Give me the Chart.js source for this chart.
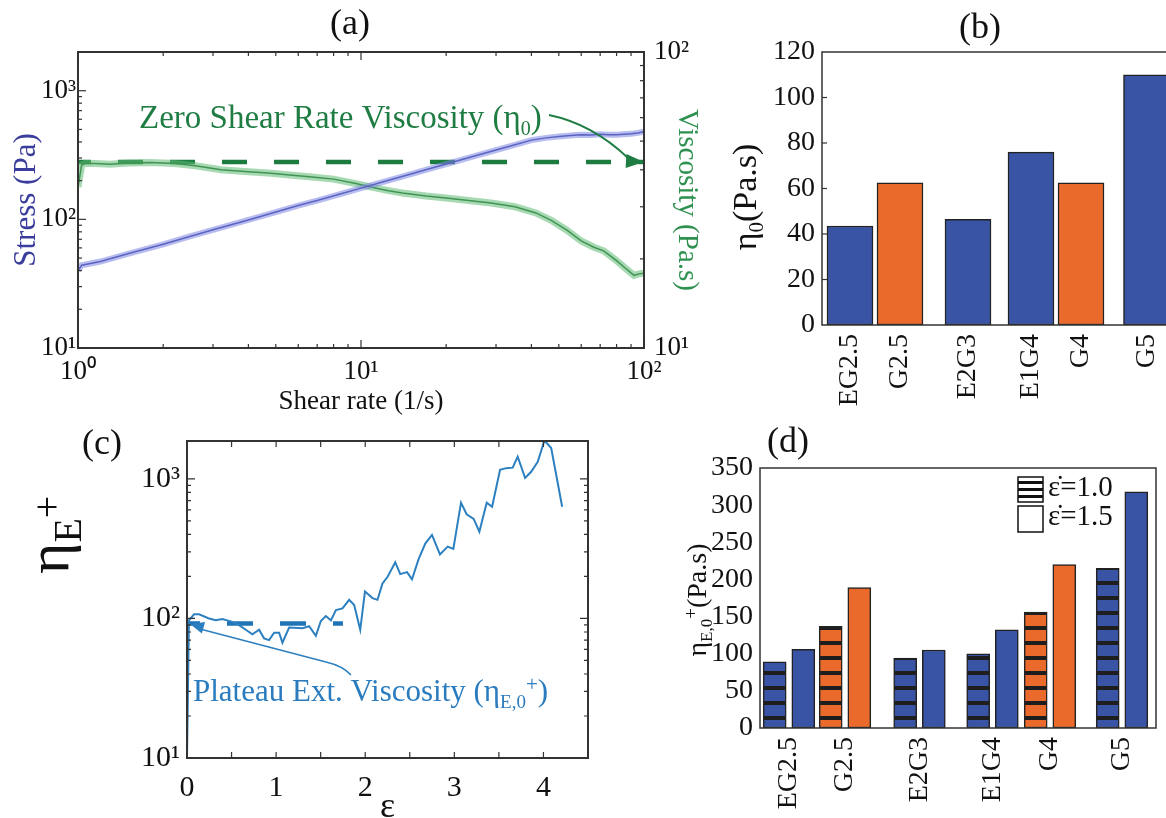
<!DOCTYPE html>
<html>
<head>
<meta charset="utf-8">
<script src="https://cdn.jsdelivr.net/npm/chart.js@4.4.1/dist/chart.umd.min.js"></script>
<style>
html, body { margin: 0; padding: 0; background: #fff; width: 1166px; height: 818px; overflow: hidden; }
canvas { position: absolute; }
</style>
</head>
<body>
<canvas id="ca" width="720" height="420" style="left:0;top:0"></canvas>
<canvas id="cb" width="520" height="420" style="left:700px;top:0"></canvas>
<canvas id="cc" width="700" height="398" style="left:0;top:420px"></canvas>
<canvas id="cd" width="506" height="398" style="left:660px;top:420px"></canvas>
<script>
// (a) flow sweep
var rateStress = [1, 1.03, 1.2, 1.5, 2, 2.5, 3, 4, 5, 6, 7, 8.5, 10, 12, 15, 20, 25, 30, 35, 40, 45, 50, 55, 60, 65, 70, 75, 80, 85, 90, 95, 100];
var stress = [40, 44, 47, 54, 64, 74, 83, 99, 114, 128, 140, 158, 175, 196, 225, 269, 309, 346, 380, 413, 430, 440, 448, 455, 452, 458, 455, 455, 458, 462, 470, 480];
var rateVisc = [1, 1.03, 1.06, 1.15, 1.3, 1.5, 1.8, 2.2, 2.6, 3.2, 4, 4.7, 5.6, 6.7, 8, 9.5, 10.8, 12.5, 14, 17, 20, 24, 28.8, 35, 41.5, 47, 53.4, 60, 66.5, 72, 79.6, 86, 92.2, 96, 100];
var viscosity = [35, 41.5, 42, 42, 41.8, 42.2, 42.3, 42, 41.3, 40, 39.4, 39, 38.4, 37.8, 37.2, 36, 35, 34, 33.4, 32.6, 32.1, 31.5, 30.9, 30, 28.6, 27, 25, 23, 21.9, 21.3, 19.8, 18.6, 17.6, 17.8, 17.9];
var eta0Plateau = 42.5;

// (b) zero shear viscosity
var samples = ['EG2.5', 'G2.5', 'E2G3', 'E1G4', 'G4', 'G5'];
var eta0 = [43.5, 62.5, 46.5, 76, 62.5, 110];

// (c) transient extensional viscosity
var strain = [0, 0.022, 0.079, 0.135, 0.247, 0.322, 0.397, 0.5, 0.58, 0.66, 0.734, 0.809, 0.865, 0.921, 0.978, 1.034, 1.071, 1.146, 1.296, 1.371, 1.446, 1.502, 1.558, 1.615, 1.671, 1.745, 1.82, 1.876, 1.944, 1.997, 2.082, 2.138, 2.194, 2.251, 2.337, 2.393, 2.469, 2.525, 2.599, 2.674, 2.749, 2.839, 2.925, 2.989, 3.075, 3.138, 3.217, 3.281, 3.363, 3.424, 3.513, 3.581, 3.655, 3.711, 3.794, 3.862, 3.936, 4.011, 4.087, 4.21];
var etaE = [10, 97, 107, 107, 100, 97, 99, 95, 90, 83, 77, 83, 72, 70, 79, 79, 67, 86, 85, 88, 75, 96, 104, 97, 115, 118, 136, 125, 83, 156, 140, 136, 178, 199, 253, 208, 215, 191, 266, 344, 397, 288, 327, 315, 676, 558, 517, 419, 676, 632, 1162, 1195, 1205, 1443, 1018, 1125, 1327, 1884, 1665, 632];
var etaE0Plateau = 92;
var plateauEnd = 1.75;

// (d) plateau extensional viscosity at two strain rates
var rateLabels = ['ε̇=1.0', 'ε̇=1.5'];
var etaE0Rate1 = [89, 137, 94, 100, 156, 215];
var etaE0Rate15 = [106, 189, 105, 132, 220, 318];

// layout: where the categories sit on the (b) and (d) axes
var bPos = [0.56, 1.56, 2.92, 4.18, 5.18, 6.49];
var dPos = [2.9, 8.5, 15.95, 23.25, 29.0, 36.2];
var dHalf = 1.43;

var SERIF = "'Liberation Serif', 'Times New Roman', serif";
var BLUE = '#3a54a5', ORANGE = '#ea6a2b';
var barColors = ['blue', 'orange', 'blue', 'blue', 'orange', 'blue'].map(function (c) { return c === 'blue' ? BLUE : ORANGE; });
Chart.defaults.font.family = SERIF;
Chart.defaults.color = '#111';

var SUP = { 0: '⁰', 1: '¹', 2: '²', 3: '³' };
function pow10(v) { return '10' + SUP[Math.round(Math.log10(v))]; }
function xy(xs, ys) { return xs.map(function (x, i) { return { x: x, y: ys[i] }; }); }
function logMinor(lo, hi) {
  var out = [];
  for (var d = lo; d < hi; d *= 10) for (var k = 2; k < 10; k++) out.push(d * k);
  return out;
}
function setTicks(vals) { return function (s) { s.ticks = vals.map(function (v) { return { value: v }; }); }; }
function fixBox(size) {
  return function (s) {
    if (s.isHorizontal()) s.height = size; else s.width = size;
    s.paddingLeft = s.paddingRight = s.paddingTop = s.paddingBottom = 0;
  };
}

// text with sub/superscripts; parts = [text, size, rise]
function rich(ctx, parts, x, y, rot, color, align) {
  ctx.save();
  ctx.translate(x, y);
  ctx.rotate(rot || 0);
  ctx.fillStyle = color;
  ctx.textBaseline = 'alphabetic';
  ctx.textAlign = 'left';
  var w = parts.map(function (p) { ctx.font = p[1] + 'px ' + SERIF; return ctx.measureText(p[0]).width; });
  var total = w.reduce(function (a, b) { return a + b; }, 0);
  var cx = align === 'center' ? -total / 2 : 0;
  parts.forEach(function (p, i) {
    ctx.font = p[1] + 'px ' + SERIF;
    ctx.fillText(p[0], cx, -(p[2] || 0));
    cx += w[i];
  });
  ctx.restore();
}
function label(ctx, txt, x, y, size) {
  ctx.save();
  ctx.font = size + 'px ' + SERIF;
  ctx.fillStyle = '#111';
  ctx.textAlign = 'center';
  ctx.textBaseline = 'middle';
  ctx.fillText(txt, x, y);
  ctx.restore();
}
function arrowHead(ctx, tx, ty, fx, fy, len, wid) {
  var a = Math.atan2(ty - fy, tx - fx);
  ctx.beginPath();
  ctx.moveTo(tx, ty);
  ctx.lineTo(tx - len * Math.cos(a) + wid * Math.sin(a), ty - len * Math.sin(a) - wid * Math.cos(a));
  ctx.lineTo(tx - len * Math.cos(a) - wid * Math.sin(a), ty - len * Math.sin(a) + wid * Math.cos(a));
  ctx.closePath();
  ctx.fill();
}

// box round the plot area plus inward tick marks
var framePlugin = {
  id: 'frame',
  afterDraw: function (chart, args, o) {
    var a = chart.chartArea, ctx = chart.ctx;
    ctx.save();
    ctx.strokeStyle = '#333';
    ctx.lineWidth = o.width || 2;
    ctx.strokeRect(a.left, a.top, a.right - a.left, a.bottom - a.top);
    ctx.lineWidth = 1.2;
    (o.marks || []).forEach(function (m) {
      var s = chart.scales[m.axis];
      m.values.forEach(function (v) {
        var p = s.getPixelForValue(v);
        ctx.beginPath();
        if (s.isHorizontal()) {
          ctx.moveTo(p, a.bottom); ctx.lineTo(p, a.bottom - m.len);
          if (m.top) { ctx.moveTo(p, a.top); ctx.lineTo(p, a.top + m.len); }
        } else {
          if (m.left) { ctx.moveTo(a.left, p); ctx.lineTo(a.left + m.len, p); }
          if (m.right) { ctx.moveTo(a.right, p); ctx.lineTo(a.right - m.len, p); }
        }
        ctx.stroke();
      });
    });
    ctx.restore();
  }
};

var base = {
  responsive: false,
  devicePixelRatio: 1,
  animation: false,
  elements: { point: { radius: 0 }, line: { tension: 0 } }
};
function opts(extra) { return Object.assign({}, base, extra); }
var noGrid = { display: false, drawTicks: false, tickLength: 0 };

// ---------- (a)
new Chart(document.getElementById('ca'), {
  type: 'line',
  data: {
    datasets: [
      { data: xy(rateStress, stress), yAxisID: 'yS', borderColor: 'rgba(125,135,225,0.55)', borderWidth: 6 },
      { data: xy(rateStress, stress), yAxisID: 'yS', borderColor: '#34389a', borderWidth: 1.5 },
      { data: xy(rateVisc, viscosity), yAxisID: 'yV', borderColor: 'rgba(95,185,115,0.55)', borderWidth: 7 },
      { data: xy(rateVisc, viscosity), yAxisID: 'yV', borderColor: '#1d6630', borderWidth: 1.5 },
      { data: [{ x: 1, y: eta0Plateau }, { x: 100, y: eta0Plateau }], yAxisID: 'yV', borderColor: '#1c7b3f', borderWidth: 4.5, borderDash: [25, 27], borderDashOffset: 12 }
    ]
  },
  options: opts({
    layout: { padding: { top: 52, left: 0, right: 0, bottom: 0 } },
    plugins: {
      legend: { display: false }, tooltip: { enabled: false },
      frame: {
        marks: [
          { axis: 'x', values: [1, 10, 100], len: 8, top: true },
          { axis: 'x', values: logMinor(1, 100), len: 4, top: true },
          { axis: 'yS', values: [10, 100, 1000], len: 8, left: true },
          { axis: 'yS', values: logMinor(10, 1000), len: 4, left: true },
          { axis: 'yV', values: [10, 100], len: 8, right: true },
          { axis: 'yV', values: logMinor(10, 100), len: 4, right: true }
        ]
      }
    },
    scales: {
      x: {
        type: 'logarithmic', min: 1, max: 100, position: 'bottom',
        afterBuildTicks: setTicks([1, 10, 100]), afterFit: fixBox(72),
        grid: noGrid, border: { display: false },
        ticks: { callback: pow10, font: { size: 27 }, padding: 8, maxRotation: 0, autoSkip: false, color: '#111' },
        title: { display: true, text: 'Shear rate (1/s)', font: { size: 27 }, color: '#111', padding: { top: 0, bottom: 2 } }
      },
      yS: {
        type: 'logarithmic', min: 10, max: 2000, position: 'left',
        afterBuildTicks: setTicks([10, 100, 1000]), afterFit: fixBox(78),
        grid: noGrid, border: { display: false },
        ticks: { callback: pow10, font: { size: 27 }, padding: 2, autoSkip: false, color: '#111' },
        title: { display: true, text: 'Stress (Pa)', font: { size: 31 }, color: '#3a3d9c', padding: { top: 8, bottom: 0 } }
      },
      yV: {
        type: 'logarithmic', min: 10, max: 100, position: 'right',
        afterBuildTicks: setTicks([10, 100]), afterFit: fixBox(76),
        grid: noGrid, border: { display: false },
        ticks: { callback: pow10, font: { size: 27 }, padding: 10, autoSkip: false, color: '#111' },
        title: { display: true, text: 'Viscosity (Pa.s)', font: { size: 29 }, color: '#2f9150', padding: { top: 16, bottom: 0 } }
      }
    }
  }),
  plugins: [framePlugin, {
    id: 'decorA',
    afterDraw: function (chart) {
      var ctx = chart.ctx;
      label(ctx, '(a)', 350, 25, 36);
      var green = '#1f7d43';
      rich(ctx, [['Zero Shear Rate Viscosity (', 33, 0], ['η', 33, 0], ['0', 20, -7], [')', 33, 0]], 139, 128, 0, green);
      ctx.save();
      ctx.strokeStyle = green; ctx.fillStyle = green; ctx.lineWidth = 1.8;
      ctx.beginPath();
      ctx.moveTo(549, 115);
      ctx.bezierCurveTo(578, 121, 606, 137, 628, 158);
      ctx.stroke();
      arrowHead(ctx, 644, 162, 626, 161, 18, 7);
      ctx.restore();
    }
  }]
});

// ---------- (b)
new Chart(document.getElementById('cb'), {
  type: 'bar',
  data: {
    datasets: [{
      data: xy(bPos, eta0),
      backgroundColor: barColors, borderColor: '#222', borderWidth: 1.5, borderSkipped: false, barThickness: 46
    }]
  },
  options: opts({
    layout: { padding: { top: 52, left: 0, right: 20, bottom: 0 } },
    plugins: {
      legend: { display: false }, tooltip: { enabled: false },
      frame: { width: 1.5, marks: [{ axis: 'y', values: [20, 40, 60, 80, 100], len: 5, left: true }] }
    },
    scales: {
      x: {
        type: 'linear', min: 0, max: 7.56, offset: false,
        afterBuildTicks: setTicks(bPos), afterFit: fixBox(95),
        grid: noGrid, border: { display: false },
        ticks: { callback: function (v, i) { return samples[i]; }, minRotation: 90, maxRotation: 90, autoSkip: false, font: { size: 28 }, padding: 9, color: '#111' }
      },
      y: {
        min: 0, max: 120, afterFit: fixBox(122),
        grid: noGrid, border: { display: false },
        ticks: { stepSize: 20, font: { size: 28 }, padding: 7, color: '#111' }
      }
    }
  }),
  plugins: [framePlugin, {
    id: 'decorB',
    afterDraw: function (chart) {
      var ctx = chart.ctx;
      label(ctx, '(b)', 280, 29, 36);
      rich(ctx, [['η', 34, 0], ['0', 21, -7], ['(Pa.s)', 34, 0]], 56, 197, -Math.PI / 2, '#111', 'center');
    }
  }]
});

// ---------- (c)
var lineBlue = '#2d80c0';
new Chart(document.getElementById('cc'), {
  type: 'line',
  data: {
    datasets: [
      { data: xy(strain, etaE), borderColor: lineBlue, borderWidth: 2 },
      { data: [{ x: 0, y: etaE0Plateau }, { x: plateauEnd, y: etaE0Plateau }], borderColor: '#1f74b6', borderWidth: 4.5, borderDash: [26, 27], borderDashOffset: 13 }
    ]
  },
  options: opts({
    layout: { padding: { top: 21, left: 0, right: 112, bottom: 0 } },
    plugins: {
      legend: { display: false }, tooltip: { enabled: false },
      frame: {
        marks: [
          { axis: 'x', values: [0.5, 1, 1.5, 2, 2.5, 3, 3.5, 4], len: 6, top: true },
          { axis: 'y', values: [100, 1000], len: 8, left: true, right: true },
          { axis: 'y', values: logMinor(10, 1000), len: 4, left: true, right: true }
        ]
      }
    },
    scales: {
      x: {
        type: 'linear', min: 0, max: 4.5,
        afterBuildTicks: setTicks([0, 1, 2, 3, 4]), afterFit: fixBox(60),
        grid: noGrid, border: { display: false },
        ticks: { font: { size: 30 }, padding: 12, maxRotation: 0, autoSkip: false, color: '#111' },
        title: { display: true, text: 'ε', font: { size: 36, lineHeight: 0.6 }, color: '#111', padding: 0 }
      },
      y: {
        type: 'logarithmic', min: 10, max: 1870,
        afterBuildTicks: setTicks([10, 100, 1000]), afterFit: fixBox(187),
        grid: noGrid, border: { display: false },
        ticks: { callback: pow10, font: { size: 30 }, padding: 7, autoSkip: false, color: '#111' }
      }
    }
  }),
  plugins: [framePlugin, {
    id: 'decorC',
    afterDraw: function (chart) {
      var ctx = chart.ctx;
      label(ctx, '(c)', 102, 25, 36);
      rich(ctx, [['η', 60, 0], ['E', 40, -13], ['+', 40, 8]], 68, 154, -Math.PI / 2, '#111');
      var txt = '#2a7cbf';
      rich(ctx, [['Plateau Ext. Viscosity (', 31, 0], ['η', 31, 0], ['E,0', 19, -7], ['+', 21, 10], [')', 31, 0]], 193, 281, 0, txt);
      ctx.save();
      ctx.strokeStyle = lineBlue; ctx.fillStyle = lineBlue; ctx.lineWidth = 1.6;
      ctx.beginPath();
      ctx.moveTo(200, 209);
      ctx.lineTo(326, 242);
      ctx.quadraticCurveTo(343, 246, 351, 255);
      ctx.stroke();
      arrowHead(ctx, 190, 204, 326, 242, 14, 6);
      ctx.restore();
    }
  }]
});

// ---------- (d)
var stripeCache = {};
function stripes(ctx, color) {
  if (!stripeCache[color]) {
    var c = document.createElement('canvas');
    c.width = 8; c.height = 15;
    var g = c.getContext('2d');
    g.fillStyle = color; g.fillRect(0, 0, 8, 15);
    g.fillStyle = '#1e1e1e'; g.fillRect(0, 11, 8, 4);
    stripeCache[color] = ctx.createPattern(c, 'repeat');
  }
  return stripeCache[color];
}
new Chart(document.getElementById('cd'), {
  type: 'bar',
  data: {
    datasets: [
      {
        label: rateLabels[0],
        data: xy(dPos.map(function (p) { return p - dHalf; }), etaE0Rate1),
        backgroundColor: function (c) { return c.dataIndex === undefined ? BLUE : stripes(c.chart.ctx, barColors[c.dataIndex]); },
        borderColor: '#222', borderWidth: 1.5, borderSkipped: false, barThickness: 23, grouped: false
      },
      {
        label: rateLabels[1],
        data: xy(dPos.map(function (p) { return p + dHalf; }), etaE0Rate15),
        backgroundColor: barColors, borderColor: '#222', borderWidth: 1.5, borderSkipped: false, barThickness: 23, grouped: false
      }
    ]
  },
  options: opts({
    layout: { padding: { top: 48, left: 0, right: 10, bottom: 0 } },
    plugins: { legend: { display: false }, tooltip: { enabled: false }, frame: { width: 1.5 } },
    scales: {
      x: {
        type: 'linear', min: 0, max: 39.6, offset: false,
        afterBuildTicks: setTicks(dPos), afterFit: fixBox(90),
        grid: noGrid, border: { display: false },
        ticks: { callback: function (v, i) { return samples[i]; }, minRotation: 90, maxRotation: 90, autoSkip: false, font: { size: 28 }, padding: 9, color: '#111' }
      },
      y: {
        min: 0, max: 350, afterFit: fixBox(100),
        grid: noGrid, border: { display: false },
        ticks: { stepSize: 50, font: { size: 28 }, padding: 7, color: '#111' }
      }
    }
  }),
  plugins: [framePlugin, {
    id: 'decorD',
    afterDraw: function (chart) {
      var ctx = chart.ctx;
      label(ctx, '(d)', 128, 23, 36);
      rich(ctx, [['η', 28, 0], ['E,0', 17, -6], ['+', 19, 9], ['(Pa.s)', 28, 0]], 46, 180, -Math.PI / 2, '#111', 'center');
      // legend
      ctx.save();
      ctx.strokeStyle = '#111'; ctx.lineWidth = 1.5;
      ctx.fillStyle = '#fff';
      ctx.fillRect(358, 57, 25, 25);
      ctx.fillStyle = '#111';
      [4, 11, 18].forEach(function (o) { ctx.fillRect(358, 57 + o, 25, 3); });
      ctx.strokeRect(358, 57, 25, 25);
      ctx.fillStyle = '#fff';
      ctx.fillRect(358, 86, 25, 26);
      ctx.strokeRect(358, 86, 25, 26);
      ctx.fillStyle = '#111';
      ctx.font = '29px ' + SERIF;
      ctx.textBaseline = 'middle';
      ctx.fillText(rateLabels[0], 388, 68);
      ctx.fillText(rateLabels[1], 388, 97);
      ctx.restore();
    }
  }]
});
</script>
</body>
</html>
